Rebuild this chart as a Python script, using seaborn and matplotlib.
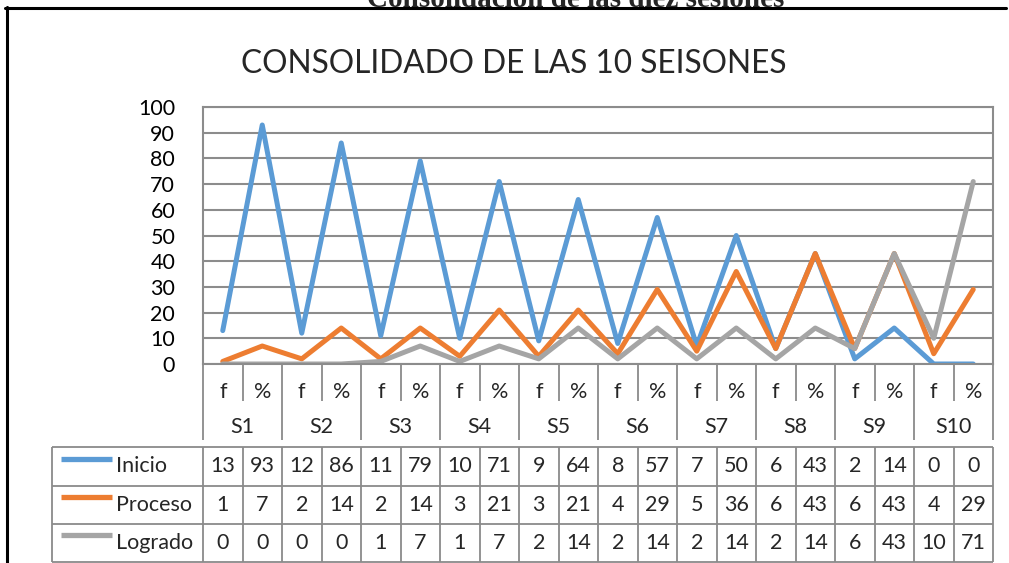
import numpy as np
import pandas as pd
import matplotlib
matplotlib.use("Agg")
import matplotlib.pyplot as plt
import seaborn as sns
from matplotlib.lines import Line2D

# ---------------- data ----------------
sessions = ["S1", "S2", "S3", "S4", "S5", "S6", "S7", "S8", "S9", "S10"]
subcats = ["f", "%"]
series_names = ["Inicio", "Proceso", "Logrado"]
inicio = [13, 93, 12, 86, 11, 79, 10, 71, 9, 64, 8, 57, 7, 50, 6, 43, 2, 14, 0, 0]
proceso = [1, 7, 2, 14, 2, 14, 3, 21, 3, 21, 4, 29, 5, 36, 6, 43, 6, 43, 4, 29]
logrado = [0, 0, 0, 0, 1, 7, 1, 7, 2, 14, 2, 14, 2, 14, 2, 14, 6, 43, 10, 71]
y_ticks = [0, 10, 20, 30, 40, 50, 60, 70, 80, 90, 100]
chart_title = "CONSOLIDADO DE LAS 10 SEISONES"
doc_title = "Consolidación de las diez sesiones"

# ---------------- style ----------------
sns.set_style("white")
plt.rcParams["font.family"] = ["Lato", "DejaVu Sans"]

colors = {"Inicio": "#5B9BD5", "Proceso": "#ED7D31", "Logrado": "#A5A5A5"}
grid_c = "#8C8C8C"
table_c = "#8A8A8A"
FS = 15.5

W, H = 1009, 563
fig = plt.figure(figsize=(W / 100, H / 100), dpi=100)


def fx(px):
    return px / W


def fy(py):
    return 1 - py / H


# plot area in pixels
L, R, T, B = 203, 993, 107, 364
ax = fig.add_axes([fx(L), fy(B), (R - L) / W, (B - T) / H])

n = len(inicio)
pos = np.arange(n)
values = {"Inicio": inicio, "Proceso": proceso, "Logrado": logrado}
df = pd.DataFrame({
    "pos": np.tile(pos, 3),
    "valor": inicio + proceso + logrado,
    "serie": np.repeat(series_names, n),
})
sns.lineplot(data=df, x="pos", y="valor", hue="serie", hue_order=series_names,
             palette=colors, lw=3.6, ax=ax, legend=False, sort=False)
for ln in ax.lines:
    ln.set_solid_joinstyle("round")
    ln.set_solid_capstyle("round")

ax.set_xlim(-0.5, n - 0.5)
ax.set_ylim(0, 100)
ax.set_yticks(y_ticks)
ax.set_xticks([])
ax.set_xlabel("")
ax.set_ylabel("")
ax.grid(axis="y", color=grid_c, lw=1.5)
ax.set_axisbelow(True)
for sp in ax.spines.values():
    sp.set_color(grid_c)
    sp.set_linewidth(1.5)
ax.tick_params(axis="y", length=0, labelsize=FS, pad=20, labelcolor="black")

# helpers: pixel -> axes-y and data-x
def ay(py):
    return (B - py) / (B - T)


col_w = (R - L) / n


def dx(px):
    return -0.5 + (px - L) / col_w


tr = ax.get_xaxis_transform()
lkw = dict(color=table_c, lw=1.3, transform=tr, clip_on=False, solid_capstyle="butt")

# ---------------- category axis ----------------
for i in range(n):
    ax.text(i, ay(392), subcats[i % 2], ha="center", va="center",
            fontsize=FS, transform=tr)
for k, s in enumerate(sessions):
    ax.text(2 * k + 0.5, ay(427), s, ha="center", va="center",
            fontsize=FS, transform=tr)
for b in range(n + 1):
    xb = b - 0.5
    if b % 2 == 0:
        ax.plot([xb, xb], [ay(B), ay(440)], **lkw)
    else:
        ax.plot([xb, xb], [ay(B), ay(401)], **lkw)

# ---------------- data table ----------------
rows_y = [447, 486, 524, 562]
tbl_left = dx(52)
for ry in rows_y:
    ax.plot([tbl_left, n - 0.5], [ay(ry), ay(ry)], **lkw)
for xb in [tbl_left] + [b - 0.5 for b in range(n + 1)]:
    ax.plot([xb, xb], [ay(rows_y[0]), ay(rows_y[-1])], **lkw)

for r, name in enumerate(series_names):
    yc = (rows_y[r] + rows_y[r + 1]) / 2
    # legend key
    ax.plot([dx(61), dx(112)], [ay(yc - 8), ay(yc - 8)], color=colors[name],
            lw=3.8, transform=tr, clip_on=False, solid_capstyle="butt")
    ax.text(dx(116), ay(yc), name, ha="left", va="center", fontsize=FS, transform=tr)
    for i, v in enumerate(values[name]):
        ax.text(i, ay(yc), str(v), ha="center", va="center", fontsize=FS, transform=tr)

# ---------------- titles & frame ----------------
fig.text(fx(514), fy(64), chart_title, ha="center", va="center", fontsize=22.8)
fig.text(fx(576), fy(7), doc_title, ha="center", va="baseline", fontsize=21,
         family=["Liberation Serif", "DejaVu Serif"], weight="bold")
fig.add_artist(Line2D([fx(5), fx(1006)], [fy(8), fy(8)], color="black", lw=2.2))
fig.add_artist(Line2D([fx(6.5), fx(6.5)], [fy(7), fy(563)], color="black", lw=2.2))

fig.savefig("out.png", dpi=100)
